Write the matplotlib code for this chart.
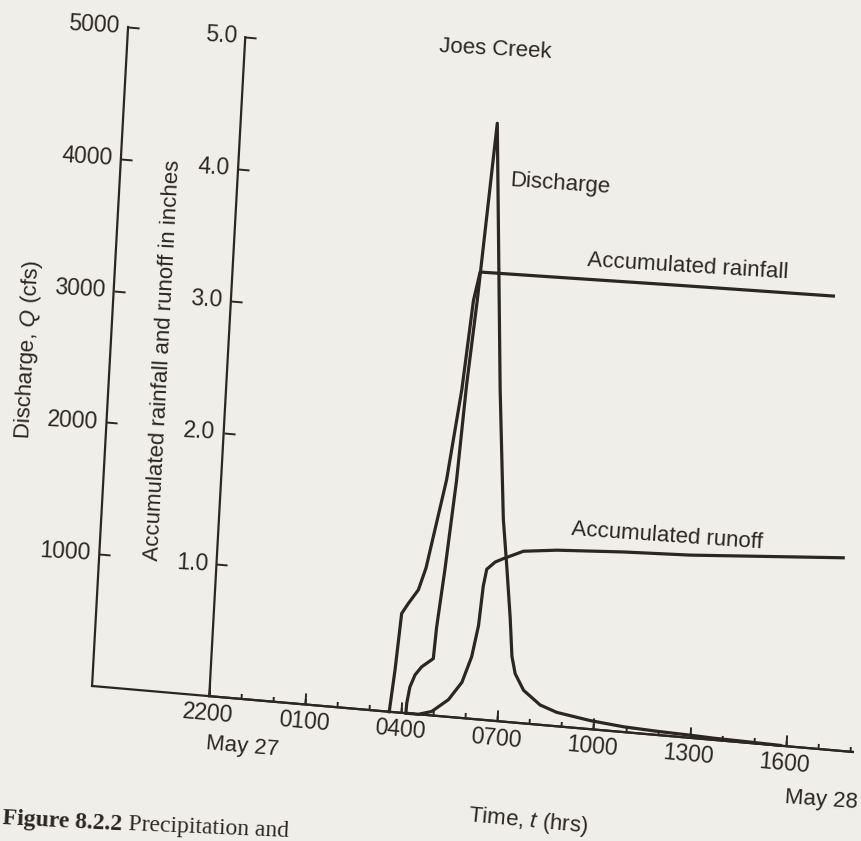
import matplotlib
matplotlib.use("Agg")
import matplotlib.pyplot as plt
from matplotlib.transforms import Affine2D
import mpl_toolkits.axisartist.floating_axes as floating_axes
from mpl_toolkits.axisartist.grid_finder import FixedLocator, DictFormatter

INK = '#2b2623'
PAPER = '#efeee9'

plt.rcParams['font.family'] = ['Liberation Sans', 'DejaVu Sans']
plt.rcParams['mathtext.fontset'] = 'custom'
plt.rcParams['mathtext.rm'] = 'Liberation Sans'
plt.rcParams['mathtext.it'] = 'Liberation Sans:italic'
plt.rcParams['axes.edgecolor'] = INK
plt.rcParams['axes.linewidth'] = 1.6
plt.rcParams['xtick.color'] = INK
plt.rcParams['ytick.color'] = INK
plt.rcParams['xtick.major.width'] = 1.4
plt.rcParams['ytick.major.width'] = 1.4
plt.rcParams['xtick.labelsize'] = 16
plt.rcParams['ytick.labelsize'] = 16
plt.rcParams['text.color'] = INK

# time in hours after midnight (0 = 0000), axis runs from ~1820 to 1800
t_start, t_end = -5.66, 18.1
hour_ticks = list(range(-2, 19))
label_hours = [-2, 1, 4, 7, 10, 13, 16]
q_ticks = [1000, 2000, 3000, 4000, 5000]
p_ticks = [1, 2, 3, 4, 5]

# discharge hydrograph, cfs
q_t = [4.14, 4.15, 4.22, 4.36, 4.55, 4.90, 4.95, 5.11, 5.32, 5.47, 5.66, 5.98,
       6.52, 6.84, 7.03, 7.22, 7.34, 7.47, 7.76, 8.30, 8.83, 9.88, 10.93,
       11.97, 13.02, 13.75, 14.79, 15.83]
q_cfs = [0, 75, 200, 295, 360, 430, 670, 1110, 1790, 2520, 3170, 4515,
         2510, 1530, 1170, 790, 500, 370, 250, 150, 105, 65, 40,
         28, 20, 13, 8, 2]

# accumulated rainfall, inches
rain_t = [3.62, 3.73, 3.84, 4.03, 4.32, 4.52, 5.01, 5.33, 5.54, 5.70,
          7.88, 11.94, 16.72]
rain_in = [0.0, 0.32, 0.75, 0.83, 0.94, 1.11, 1.79, 2.48, 3.16, 3.38,
           3.39, 3.41, 3.43]

# accumulated runoff, inches
ro_t = [4.17, 4.53, 4.94, 5.44, 5.83, 6.09, 6.25, 6.33, 6.41, 6.66, 6.90,
        7.52, 8.56, 10.63, 12.71, 17.47]
ro_in = [0.0, 0.0, 0.03, 0.13, 0.27, 0.47, 0.71, 1.01, 1.14, 1.20, 1.23,
         1.30, 1.33, 1.36, 1.38, 1.46]

# the scanned page is skewed a few degrees -> general affine map data->pixels
skew = Affine2D().from_values(32.02, -2.777, 0.0072, 0.1318, 273.3, 139.3)
skew_in = Affine2D().scale(1, 1000) + skew

fig = plt.figure(figsize=(8.62, 8.41), dpi=100, facecolor=PAPER)

gh_q = floating_axes.GridHelperCurveLinear(
    skew, extremes=(t_start, t_end, 0, 5000),
    grid_locator1=FixedLocator(hour_ticks),
    grid_locator2=FixedLocator(q_ticks),
    tick_formatter1=DictFormatter({}),
    tick_formatter2=DictFormatter({q: str(q) for q in q_ticks}))
ax = fig.add_axes([0, 0, 1, 1], axes_class=floating_axes.FloatingAxes,
                  grid_helper=gh_q)

gh_p = floating_axes.GridHelperCurveLinear(
    skew_in, extremes=(-2, t_end, 0, 5),
    grid_locator1=FixedLocator(label_hours),
    grid_locator2=FixedLocator(p_ticks),
    tick_formatter1=DictFormatter({h: '%02d00' % (h % 24) for h in label_hours}),
    tick_formatter2=DictFormatter({p: '%.1f' % p for p in p_ticks}))
ax2 = fig.add_axes([0, 0, 1, 1], axes_class=floating_axes.FloatingAxes,
                   grid_helper=gh_p)

for a in (ax, ax2):
    a.set_xlim(0, 862)
    a.set_ylim(0, 841)
    a.patch.set_facecolor('none')
    a.axis['top'].set_visible(False)
    a.axis['right'].set_visible(False)
    for side in ('left', 'bottom'):
        a.axis[side].major_ticks.set_markeredgecolor(INK)
        a.axis[side].major_ticklabels.set_fontsize(16.5)
        a.axis[side].major_ticklabels.set_color(INK)

ax.axis['left'].major_ticks.set_ticksize(8)
ax.axis['left'].major_ticklabels.set_pad(6)
ax.axis['bottom'].major_ticks.set_ticksize(4)
ax2.axis['left'].major_ticks.set_ticksize(8)
ax2.axis['left'].major_ticklabels.set_pad(6)
ax2.axis['bottom'].major_ticks.set_ticksize(8)
ax2.axis['bottom'].major_ticklabels.set_pad(5)

aux_q = ax.get_aux_axes(skew)
aux_q.plot(q_t, q_cfs, color=INK, lw=2.3, solid_joinstyle='round')

aux_p = ax2.get_aux_axes(skew_in)
aux_p.plot(rain_t, rain_in, color=INK, lw=2.3, solid_joinstyle='round')
aux_p.plot(ro_t, ro_in, color=INK, lw=2.3, solid_joinstyle='round')

# annotations, placed in pixel coords (y measured from top of the scan)
notes = [
    ('Joes Creek', 495, 49, -3),
    ('Discharge', 560, 184, -4),
    ('Accumulated rainfall', 688, 267, -3.5),
    ('Accumulated runoff', 667, 536, -4),
    ('Time, $t$ (hrs)', 528, 821, -5.5),
    ('May 27', 242, 747, -5),
    ('May 28', 821, 800, -4),
    ('Discharge, $Q$ (cfs)', 28, 350, 87),
    ('Accumulated rainfall and runoff in inches', 163, 360, 87),
]
for s, x, y, r in notes:
    ax.text(x, 841 - y, s, rotation=r, rotation_mode='anchor',
            ha='center', va='center', fontsize=16, color=INK)

# caption fragment at the bottom edge of the scan
ax.text(2, 841 - 824, 'Figure 8.2.2', rotation=-3, rotation_mode='anchor',
        ha='left', va='baseline', fontsize=17, fontweight='bold',
        family='Liberation Serif', color=INK)
ax.text(128, 841 - 830, 'Precipitation and', rotation=-2.5,
        rotation_mode='anchor', ha='left', va='baseline', fontsize=17,
        family='Liberation Serif', color=INK)

fig.savefig('out.png', dpi=100)
